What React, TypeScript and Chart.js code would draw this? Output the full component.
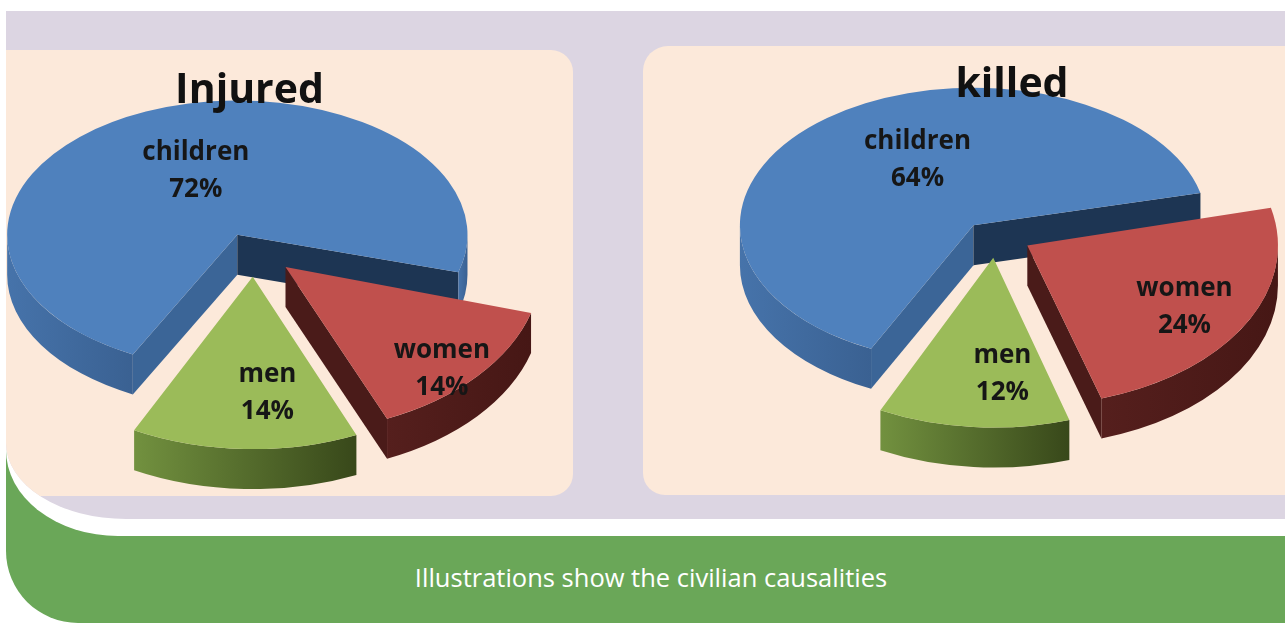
import React, { useEffect, useRef } from 'react';
import { Chart, registerables } from 'chart.js';

Chart.register(...registerables);

// ---------- data ----------
const categories = ['children', 'women', 'men'];
const injuredValues = [72, 14, 14];
const killedValues = [64, 24, 12];
const injuredTitle = 'Injured';
const killedTitle = 'killed';
const caption = 'Illustrations show the civilian causalities';

// ---------- styles ----------
const topColors = ['#4f81bd', '#c0504d', '#9bbb59'];
const wallColors = [
  ['#4673aa', '#3a6192'],
  ['#551f1d', '#461715'],
  ['#72913f', '#38481a'],
];
const startFaceColors = ['#3b6597', '#4a1b19', '#4a5e25'];
const endFaceColors = ['#1d3553', '#4a1b19', '#4a5e25'];
const labelColor = '#161616';
const FONT = '"Open Sans", Lato, sans-serif';

const pie3dPlugin = {
  id: 'pie3d',
  beforeDatasetsDraw(chart: any, _args: any, opts: any) {
    const ctx = chart.ctx as CanvasRenderingContext2D;
    const meta = chart.getDatasetMeta(0);
    const data = chart.data.datasets[0].data as number[];
    const total = data.reduce((a: number, b: number) => a + b, 0);
    const items = meta.data.map((arc: any, i: number) => {
      const p = arc.getProps(['x', 'y', 'startAngle', 'endAngle', 'outerRadius'], true);
      const mid = (p.startAngle + p.endAngle) / 2;
      const sn = Math.sin(mid);
      return {
        arc,
        i,
        p,
        mid,
        k: opts.tilt + opts.tiltPersp * sn,
        s: 1 + opts.scalePersp * sn,
        drop: opts.backDrop * Math.max(0, -sn),
      };
    });
    const order = [...items].sort((a: any, b: any) => Math.sin(a.mid) - Math.sin(b.mid));
    const o = opts.explode;
    for (const it of order) {
      const { x, y, startAngle: a0, endAngle: a1, outerRadius: R } = it.p;
      ctx.save();
      ctx.translate(x, y + it.drop);
      ctx.scale(1, it.k);
      ctx.translate(o * Math.cos(it.mid), o * Math.sin(it.mid));
      ctx.scale(it.s, it.s);
      ctx.translate(-x, -y);
      const D = opts.depth / (it.k * it.s);
      const face = (ang: number, color: string) => {
        ctx.beginPath();
        ctx.moveTo(x, y);
        ctx.lineTo(x + R * Math.cos(ang), y + R * Math.sin(ang));
        ctx.lineTo(x + R * Math.cos(ang), y + D + R * Math.sin(ang));
        ctx.lineTo(x, y + D);
        ctx.closePath();
        ctx.fillStyle = color;
        ctx.fill();
      };
      if (Math.cos(a0) < 0) face(a0, startFaceColors[it.i]);
      if (Math.cos(a1) > 0) face(a1, endFaceColors[it.i]);
      for (let n = -2; n <= 3; n++) {
        const base = n * 2 * Math.PI;
        const lo = Math.max(a0, base);
        const hi = Math.min(a1, base + Math.PI);
        if (hi - lo <= 1e-6) continue;
        let minX = Math.min(Math.cos(lo), Math.cos(hi));
        let maxX = Math.max(Math.cos(lo), Math.cos(hi));
        if (lo <= base + Math.PI && hi >= base + Math.PI) minX = -1;
        if (lo <= base && hi >= base) maxX = 1;
        const g = ctx.createLinearGradient(x + R * minX, 0, x + R * maxX + 0.01, 0);
        g.addColorStop(0, wallColors[it.i][0]);
        g.addColorStop(1, wallColors[it.i][1]);
        ctx.beginPath();
        ctx.arc(x, y, R, lo, hi, false);
        ctx.lineTo(x + R * Math.cos(hi), y + D + R * Math.sin(hi));
        ctx.arc(x, y + D, R, hi, lo, true);
        ctx.closePath();
        ctx.fillStyle = g;
        ctx.fill();
      }
      it.arc.draw(ctx);
      ctx.restore();
    }
    // labels
    ctx.save();
    ctx.fillStyle = labelColor;
    ctx.textAlign = 'center';
    ctx.textBaseline = 'alphabetic';
    ctx.font = `bold ${opts.labelSize}px ${FONT}`;
    const lh = opts.labelLineHeight;
    for (const it of items) {
      const { x, y, outerRadius: R } = it.p;
      const f = opts.labelFractions[it.i];
      const ang = it.mid + (opts.labelShift[it.i] * Math.PI) / 180;
      const cx = x + o * Math.cos(it.mid) + it.s * f * R * Math.cos(ang);
      const cy = y + it.k * (o * Math.sin(it.mid) + it.s * f * R * Math.sin(ang));
      const pct = Math.round((data[it.i] / total) * 100) + '%';
      ctx.fillText(categories[it.i], cx, cy - lh / 2);
      ctx.fillText(pct, cx, cy + lh / 2);
    }
    ctx.restore();
    return false;
  },
};

type PieProps = {
  values: number[];
  rotation: number;
  radius: number;
  cfg: any;
  left: number;
  top: number;
  width: number;
  height: number;
};

function Pie3D({ values, rotation, radius, cfg, left, top, width, height }: PieProps) {
  const ref = useRef<HTMLCanvasElement>(null);
  useEffect(() => {
    const chart = new Chart(ref.current as HTMLCanvasElement, {
      type: 'pie',
      data: {
        labels: categories,
        datasets: [
          {
            data: values,
            backgroundColor: topColors,
            borderWidth: 0,
            rotation,
            radius,
            offset: 0,
          } as any,
        ],
      },
      options: {
        responsive: false,
        animation: false,
        events: [],
        rotation,
        radius,
        layout: { padding: 0 },
        plugins: {
          legend: { display: false },
          tooltip: { enabled: false },
          title: { display: false },
          pie3d: cfg,
        } as any,
      } as any,
      plugins: [pie3dPlugin as any],
    });
    return () => chart.destroy();
  }, []);
  return (
    <div style={{ position: 'absolute', left, top, width, height }}>
      <canvas ref={ref} width={width} height={height} />
    </div>
  );
}

const titleStyle = (cx: number, baseline: number, size: number): React.CSSProperties => ({
  position: 'absolute',
  left: cx - 200,
  width: 400,
  top: baseline - 0.888 * size,
  fontSize: size,
  lineHeight: `${size}px`,
  fontFamily: FONT,
  fontWeight: 700,
  textAlign: 'center',
  color: '#111',
  whiteSpace: 'nowrap',
});

export default function App() {
  const injuredCfg = {
    tilt: 0.62,
    tiltPersp: 0.04,
    scalePersp: 0.066,
    backDrop: 9,
    explode: 42,
    depth: 40,
    labelSize: 26,
    labelLineHeight: 37,
    labelFractions: [0.4, 0.9, 0.72],
    labelShift: [-3.4, 5.8, -6.3],
  };
  const killedCfg = {
    tilt: 0.62,
    tiltPersp: 0.04,
    scalePersp: 0.055,
    backDrop: 10,
    explode: 36,
    depth: 40,
    labelSize: 26,
    labelLineHeight: 37,
    labelFractions: [0.435, 0.76, 0.73],
    labelShift: [5.4, 4.8, -7.2],
  };
  return (
    <div
      style={{
        position: 'fixed',
        left: 0,
        top: 0,
        width: 1285,
        height: 623,
        background: '#ffffff',
        overflow: 'hidden',
      }}
    >
      <div
        style={{
          position: 'absolute',
          left: 6,
          top: 430,
          width: 1279,
          height: 193,
          background: '#6aa758',
          borderBottomLeftRadius: 72,
        }}
      />
      <div
        style={{
          position: 'absolute',
          left: 6,
          top: 11,
          width: 1279,
          height: 525,
          background: '#ffffff',
          borderBottomLeftRadius: '112px 86px',
        }}
      />
      <div
        style={{
          position: 'absolute',
          left: 6,
          top: 11,
          width: 1279,
          height: 508,
          background: '#dcd5e2',
          borderBottomLeftRadius: '120px 76px',
          overflow: 'hidden',
        }}
      >
        <div
          style={{
            position: 'absolute',
            left: 0,
            top: 39,
            width: 567,
            height: 446,
            background: '#fce9da',
            borderTopRightRadius: 22,
            borderBottomRightRadius: 22,
          }}
        />
        <div
          style={{
            position: 'absolute',
            left: 637,
            top: 35,
            width: 642,
            height: 449,
            background: '#fce9da',
            borderTopLeftRadius: 25,
            borderBottomLeftRadius: 22,
          }}
        />
      </div>
      <Pie3D values={injuredValues} rotation={207} radius={245} cfg={injuredCfg} left={-46} top={9} width={600} height={480} />
      <Pie3D values={killedValues} rotation={206} radius={244} cfg={killedCfg} left={696} top={-6} width={600} height={480} />
      <div style={titleStyle(249.5, 103, 41)}>{injuredTitle}</div>
      <div style={titleStyle(1012, 97, 41)}>{killedTitle}</div>
      <div
        style={{
          position: 'absolute',
          left: 651 - 400,
          width: 800,
          top: 588 - 0.888 * 25.5,
          fontSize: 25.5,
          lineHeight: '25.5px',
          fontFamily: FONT,
          fontWeight: 400,
          textAlign: 'center',
          color: '#ffffff',
          whiteSpace: 'nowrap',
        }}
      >
        {caption}
      </div>
    </div>
  );
}
